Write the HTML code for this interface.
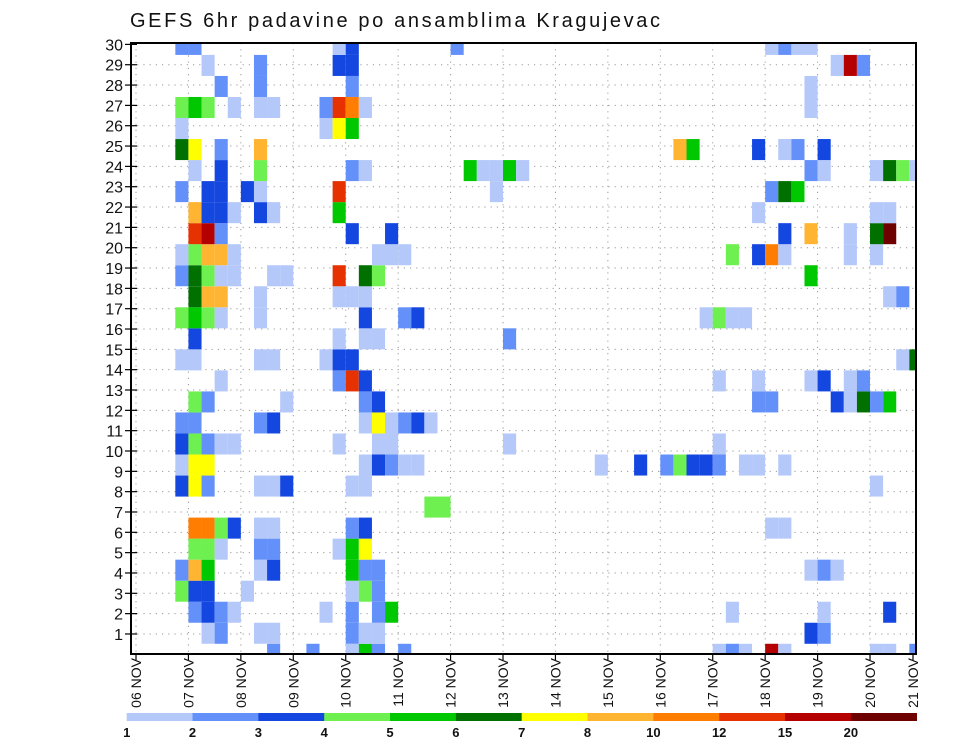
<!DOCTYPE html>
<html><head><meta charset="utf-8"><title>GEFS 6hr padavine po ansamblima Kragujevac</title>
<style>html,body{margin:0;padding:0;background:#fff;}svg{display:block;font-family:"Liberation Sans",sans-serif;}</style>
</head><body>
<svg id="chart" width="960" height="742" viewBox="0 0 960 742">
<text x="130" y="27" font-size="20" textLength="530" fill="#111">GEFS 6hr padavine po ansamblima Kragujevac</text>
<g id="grid"></g>
<g id="cells"></g>
<rect x="131" y="43" width="785" height="611" fill="none" stroke="#000" stroke-width="2"/>
<g id="axes"></g>
<g id="colorbar"></g>
</svg>
<script>
// ---- data ----
const dayLabels = ["06 NOV","07 NOV","08 NOV","09 NOV","10 NOV","11 NOV","12 NOV","13 NOV","14 NOV","15 NOV","16 NOV","17 NOV","18 NOV","19 NOV","20 NOV","21 NOV"];
const memberTicks = [1,2,3,4,5,6,7,8,9,10,11,12,13,14,15,16,17,18,19,20,21,22,23,24,25,26,27,28,29,30];
const levels = [1,2,3,4,5,6,7,8,10,12,15,20];
const levelColors = ["#b4c8fa","#6490fa","#1446e0","#6ef050","#00c800","#007000","#ffff00","#ffb432","#ff7d00","#e63200","#b40000","#6e0000"];
// per member (index 0..29): [6-hour step, precipitation mm]
const precipByMember = [
 [[10,2.5],[13,2.5],[16,1.5],[17,5.5],[18,2.5],[20,2.5],[44,1.5],[45,2.5],[46,1.5],[48,17.5],[49,1.5],[56,1.5],[57,1.5],[59,2.5]],
 [[5,1.5],[6,2.5],[9,1.5],[10,1.5],[16,2.5],[17,1.5],[18,1.5],[51,3.5],[52,2.5]],
 [[4,2.5],[5,3.5],[6,2.5],[7,1.5],[14,1.5],[16,2.5],[18,2.5],[19,5.5],[45,1.5],[52,1.5],[57,3.5]],
 [[3,4.5],[4,3.5],[5,3.5],[8,1.5],[16,1.5],[17,4.5],[18,2.5]],
 [[3,2.5],[4,9],[5,5.5],[9,1.5],[10,3.5],[16,5.5],[17,2.5],[18,2.5],[51,1.5],[52,2.5],[53,1.5]],
 [[4,4.5],[5,4.5],[6,1.5],[9,2.5],[10,2.5],[15,1.5],[16,5.5],[17,7.5]],
 [[4,11],[5,11],[6,4.5],[7,3.5],[9,1.5],[10,1.5],[16,2.5],[17,3.5],[48,1.5],[49,1.5]],
 [[22,4.5],[23,4.5]],
 [[3,3.5],[4,7.5],[5,2.5],[9,1.5],[10,1.5],[11,3.5],[16,1.5],[17,1.5],[56,1.5]],
 [[3,1.5],[4,7.5],[5,7.5],[17,1.5],[18,3.5],[19,2.5],[20,1.5],[21,1.5],[35,1.5],[38,3.5],[40,2.5],[41,4.5],[42,3.5],[43,3.5],[44,2.5],[46,1.5],[47,1.5],[49,1.5]],
 [[3,3.5],[4,4.5],[5,2.5],[6,1.5],[7,1.5],[15,1.5],[18,1.5],[19,1.5],[28,1.5],[44,1.5]],
 [[3,2.5],[4,2.5],[9,2.5],[10,3.5],[17,1.5],[18,7.5],[19,1.5],[20,2.5],[21,3.5],[22,1.5]],
 [[4,4.5],[5,2.5],[11,1.5],[17,2.5],[18,3.5],[47,2.5],[48,2.5],[53,3.5],[54,1.5],[55,6.5],[56,2.5],[57,5.5]],
 [[6,1.5],[15,2.5],[16,13.5],[17,3.5],[44,1.5],[47,1.5],[51,1.5],[52,3.5],[54,1.5],[55,2.5]],
 [[3,1.5],[4,1.5],[9,1.5],[10,1.5],[14,1.5],[15,3.5],[16,3.5],[58,1.5],[59,6.5]],
 [[4,3.5],[15,1.5],[17,1.5],[18,1.5],[28,2.5]],
 [[3,4.5],[4,5.5],[5,4.5],[6,1.5],[9,1.5],[17,3.5],[20,2.5],[21,3.5],[43,1.5],[44,4.5],[45,1.5],[46,1.5]],
 [[4,6.5],[5,9],[6,9],[9,1.5],[15,1.5],[16,1.5],[17,1.5],[57,1.5],[58,2.5]],
 [[3,2.5],[4,6.5],[5,4.5],[6,1.5],[7,1.5],[10,1.5],[11,1.5],[15,13.5],[17,6.5],[18,4.5],[51,5.5]],
 [[3,1.5],[4,4.5],[5,9],[6,9],[7,1.5],[18,1.5],[19,1.5],[20,1.5],[45,4.5],[47,3.5],[48,11],[49,1.5],[54,1.5],[56,1.5]],
 [[4,13.5],[5,17.5],[6,2.5],[16,3.5],[19,3.5],[49,3.5],[51,9],[54,1.5],[56,6.5],[57,25]],
 [[4,9],[5,3.5],[6,3.5],[7,1.5],[9,3.5],[10,1.5],[15,5.5],[47,1.5],[56,1.5],[57,1.5]],
 [[3,2.5],[5,3.5],[6,3.5],[8,3.5],[9,1.5],[15,13.5],[27,1.5],[48,2.5],[49,6.5],[50,5.5]],
 [[4,1.5],[6,3.5],[9,4.5],[16,2.5],[17,1.5],[25,5.5],[26,1.5],[27,1.5],[28,5.5],[29,1.5],[51,2.5],[52,1.5],[56,1.5],[57,6.5],[58,4.5],[59,1.5]],
 [[3,6.5],[4,7.5],[6,2.5],[9,9],[41,9],[42,5.5],[47,3.5],[49,1.5],[50,2.5],[52,3.5]],
 [[3,1.5],[14,1.5],[15,7.5],[16,5.5]],
 [[3,4.5],[4,5.5],[5,4.5],[7,1.5],[9,1.5],[10,1.5],[14,2.5],[15,13.5],[16,11],[17,1.5],[51,1.5]],
 [[6,2.5],[9,2.5],[16,2.5],[51,1.5]],
 [[5,1.5],[9,2.5],[15,3.5],[16,3.5],[53,1.5],[54,17.5],[55,2.5]],
 [[3,2.5],[4,2.5],[15,1.5],[16,3.5],[24,2.5],[48,1.5],[49,2.5],[50,1.5],[51,1.5]]
];

// ---- scales ----
const NS = "http://www.w3.org/2000/svg";
const frame = {left:131, right:916, top:43, bottom:654};
const x0 = 136, dayW = 52.43;
function xScale(days){ return x0 + dayW*days; }
function yScale(v){ return 654.3 - 20.33*v; }
const memberScale = 30/29;
function colorFor(v){ let c = 0; for(let i=0;i<levels.length;i++){ if(v>=levels[i]) c=i; } return levelColors[c]; }
function mk(tag, attrs, parent){ const e=document.createElementNS(NS,tag); for(const k in attrs) e.setAttribute(k, attrs[k]); parent.appendChild(e); return e; }

// ---- grid ----
const grid = document.getElementById('grid');
dayLabels.forEach((d,i)=>{
  const x = xScale(i);
  if (x > frame.right) return;
  const l = mk('line',{x1:x,y1:frame.top,x2:x,y2:frame.bottom,stroke:'#999','stroke-width':1,'stroke-dasharray':'1.2 5'},grid);
  
  
});
memberTicks.forEach(m=>{
  if (m>=30) return;
  const y = yScale(m);
  const l = mk('line',{x1:frame.left,y1:y,x2:frame.right,y2:y,stroke:'#999','stroke-width':1,'stroke-dasharray':'1.2 5'},grid);
  
  
});

// ---- cells ----
const cellsG = document.getElementById('cells');
const cellH = 20.33*memberScale, cellW = dayW/4;
precipByMember.forEach((row,k)=>{
  row.forEach(([step,val])=>{
    const xa = xScale(step/4), xb = Math.min(xa+cellW, frame.right);
    const yc = yScale(k*memberScale);
    const ya = Math.max(yc - cellH/2, frame.top), yb = Math.min(yc + cellH/2, frame.bottom);
    if (xb<=xa || yb<=ya) return;
    const r = mk('rect',{x:xa.toFixed(2),y:ya.toFixed(2),width:(xb-xa).toFixed(2),height:(yb-ya).toFixed(2),fill:colorFor(val)},cellsG);
    
    
  });
});

// ---- axes ----
const axes = document.getElementById('axes');
memberTicks.forEach(m=>{
  const y = yScale(m);
  const t = mk('line',{x1:125,y1:y,x2:137,y2:y,stroke:'#000','stroke-width':1.2},axes);
  
  
  const lab = mk('text',{x:123,y:y+6,'font-size':16,'text-anchor':'end',fill:'#111'},axes);
  lab.textContent = m;
  
  
});
dayLabels.forEach((d,i)=>{
  let x = xScale(i);
  if (x > frame.right) x = 913;
  const t = mk('line',{x1:x,y1:frame.bottom,x2:x,y2:frame.bottom+6,stroke:'#000','stroke-width':1.2},axes);
  
  
  const lab = mk('text',{x:0,y:0,'font-size':14,'text-anchor':'end',fill:'#111',transform:`translate(${(x+5).toFixed(1)},658) rotate(-90)`},axes);
  lab.textContent = d;
  
  
});

// ---- colorbar ----
const cb = document.getElementById('colorbar');
const cbX0 = 126.7, cbW = (916.7-126.7)/levelColors.length;
levelColors.forEach((c,i)=>{
  const r = mk('rect',{x:(cbX0+i*cbW).toFixed(2),y:713,width:(cbW+0.3).toFixed(2),height:8,fill:c},cb);
  
  
});
levels.forEach((lv,i)=>{
  const t = mk('text',{x:(cbX0+i*cbW).toFixed(2),y:737,'font-size':13,'font-weight':'bold','text-anchor':'middle',fill:'#111'},cb);
  t.textContent = lv;
  
  
});
</script>
</body></html>
